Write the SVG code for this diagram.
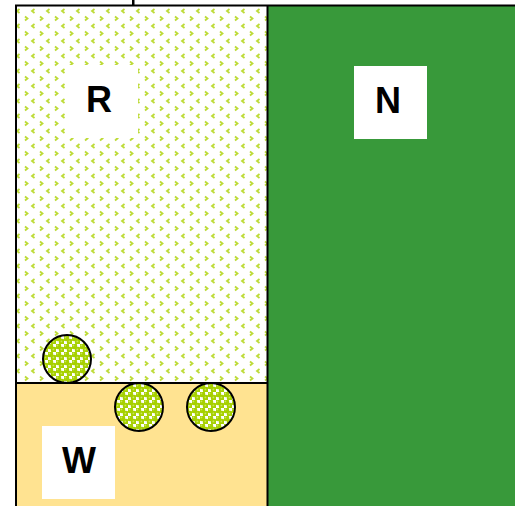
<svg xmlns="http://www.w3.org/2000/svg" width="515" height="506" viewBox="0 0 515 506">
<style>
.lbl{font-family:"Liberation Sans",Arial,sans-serif;font-weight:bold;font-size:36px;fill:#000;text-anchor:middle;dominant-baseline:central}
.box{fill:#fff}
.edge{stroke:#000;stroke-width:2;fill:none}
.ball{fill:url(#balls);stroke:#000;stroke-width:2}
</style>
<defs>
<pattern id="chev" x="0" y="0" width="15" height="15" patternUnits="userSpaceOnUse">
<rect width="15" height="15" fill="#fff"/>
<path d="M10,1.5 L12.5,3.5 L10,5.5" fill="none" stroke="#bddb36" stroke-width="1.8"/>
<path d="M4.5,9 L2,11 L4.5,13" fill="none" stroke="#bddb36" stroke-width="1.8"/>
</pattern>
<pattern id="balls" x="0" y="0" width="8" height="8" patternUnits="userSpaceOnUse">
<rect width="8" height="8" fill="#fff"/>
<circle cx="2" cy="2" r="3.2" fill="#a6d000"/>
<circle cx="6" cy="6" r="3.2" fill="#a6d000"/>
<circle cx="1.4" cy="1.4" r="0.9" fill="#c8e45a"/>
<circle cx="5.4" cy="5.4" r="0.9" fill="#c8e45a"/>
</pattern>
</defs>
<g id="region-R">
<rect x="16" y="6" width="252" height="377" fill="url(#chev)"/>
</g>
<g id="region-N">
<rect x="268" y="6" width="247" height="500" fill="#38993a"/>
</g>
<g id="region-W">
<rect x="16" y="383" width="252" height="123" fill="#ffe391"/>
</g>
<g id="connectors">
<path class="edge" d="M16,506 V5.5 H515"/>
<path class="edge" d="M267.5,5 V506"/>
<path class="edge" d="M16,383 H268"/>
<rect x="132" y="0" width="2.5" height="5" fill="#000"/>
</g>
<g id="node-R">
<rect class="box" x="65" y="65" width="73" height="73"/>
<text class="lbl" x="99" y="99">R</text>
</g>
<g id="node-N">
<rect class="box" x="354" y="66" width="73" height="73"/>
<text class="lbl" x="388" y="100">N</text>
</g>
<g id="node-W">
<rect class="box" x="42" y="426" width="73" height="73"/>
<text class="lbl" x="79" y="460">W</text>
</g>
<g id="ball-1"><circle class="ball" cx="67" cy="359" r="24"/></g>
<g id="ball-2"><circle class="ball" cx="139" cy="407" r="24"/></g>
<g id="ball-3"><circle class="ball" cx="211" cy="407" r="24"/></g>
</svg>
